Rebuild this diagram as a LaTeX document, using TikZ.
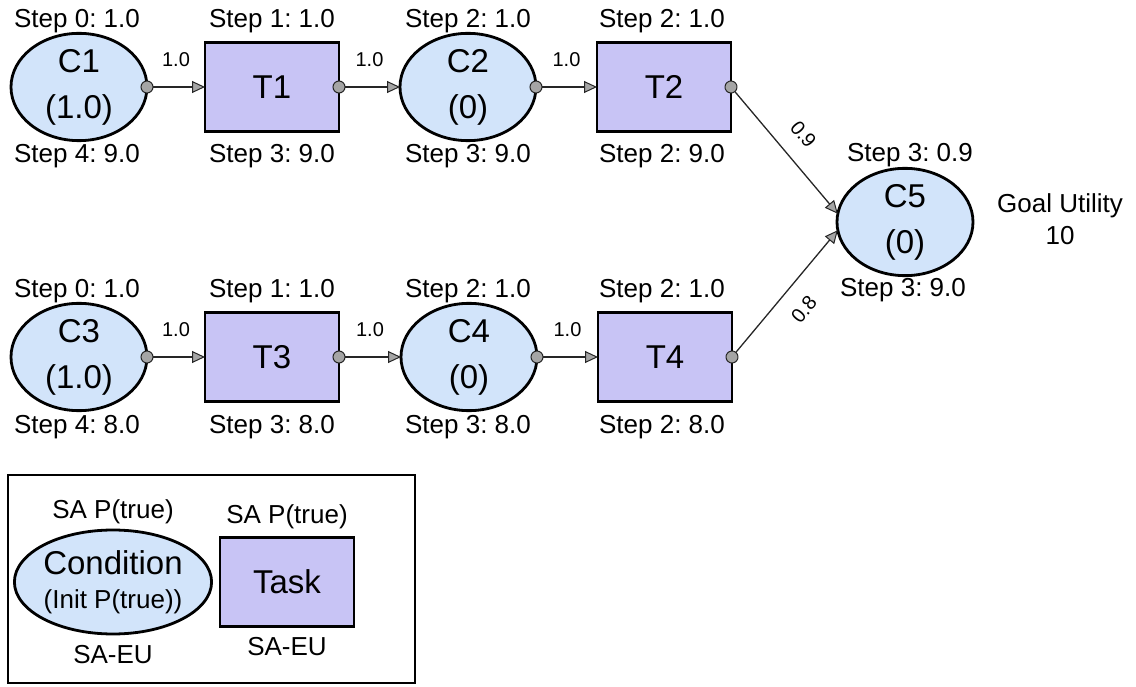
\documentclass[tikz,border=0pt]{standalone}
\usepackage{fontspec}
\setmainfont{Liberation Sans}
\frenchspacing
\usetikzlibrary{shapes.geometric,arrows.meta}
\definecolor{condfill}{RGB}{210,228,250}
\definecolor{taskfill}{RGB}{200,196,245}
\definecolor{tipgray}{RGB}{165,165,165}
\tikzset{
  cond/.style={ellipse, draw=black, line width=2.8pt, fill=condfill, inner sep=0pt, outer sep=0pt,
    minimum width=136pt, minimum height=90pt, align=center, font=\fontsize{33}{46}\selectfont},
  task/.style={rectangle, draw=black, line width=2.8pt, fill=taskfill, inner sep=0pt, outer sep=0pt,
    minimum width=134pt, minimum height=89pt, align=center, font=\fontsize{33}{46}\selectfont},
  lbl/.style={anchor=base, inner sep=0pt, font=\fontsize{26}{30}\selectfont},
  elbl/.style={inner sep=0pt, font=\fontsize{20}{24}\selectfont},
  conn/.style={draw=black!85, line width=1.3pt, shorten <=-6.5pt,
    {Circle[length=13pt, fill=tipgray, line width=1pt]}-{Triangle[length=13pt, width=12pt, fill=tipgray, line width=1pt]}},
}
\begin{document}
\begin{tikzpicture}[x=1pt, y=-1pt]
\useasboundingbox (0,0) rectangle (1136,687);

% upper chain
\node[cond] (c1) at (79,87) {C1\\(1.0)};
\node[task] (t1) at (272,87) {T1};
\node[cond] (c2) at (468,87) {C2\\(0)};
\node[task] (t2) at (664,87) {T2};
% lower chain
\node[cond] (c3) at (79,357) {C3\\(1.0)};
\node[task] (t3) at (272,357) {T3};
\node[cond] (c4) at (469,357) {C4\\(0)};
\node[task] (t4) at (665,357) {T4};
% goal
\node[cond] (c5) at (905,222) {C5\\(0)};

% step annotations
\node[lbl] (c1a) at (77,28) {Step 0: 1.0};
\node[lbl] (c1b) at (77,163) {Step 4: 9.0};
\node[lbl] (t1a) at (272,28) {Step 1: 1.0};
\node[lbl] (t1b) at (272,163) {Step 3: 9.0};
\node[lbl] (c2a) at (468,28) {Step 2: 1.0};
\node[lbl] (c2b) at (468,163) {Step 3: 9.0};
\node[lbl] (t2a) at (662,28) {Step 2: 1.0};
\node[lbl] (t2b) at (662,163) {Step 2: 9.0};

\node[lbl] (c3a) at (77,298) {Step 0: 1.0};
\node[lbl] (c3b) at (77,433) {Step 4: 8.0};
\node[lbl] (t3a) at (272,298) {Step 1: 1.0};
\node[lbl] (t3b) at (272,433) {Step 3: 8.0};
\node[lbl] (c4a) at (468,298) {Step 2: 1.0};
\node[lbl] (c4b) at (468,433) {Step 3: 8.0};
\node[lbl] (t4a) at (662,298) {Step 2: 1.0};
\node[lbl] (t4b) at (662,433) {Step 2: 8.0};

\node[lbl] (c5a) at (910,162) {Step 3: 0.9};
\node[lbl] (c5b) at (903,297) {Step 3: 9.0};
\node[lbl] (gu1) at (1060,213) {Goal Utility};
\node[lbl] (gu2) at (1060,245) {10};

% links
\draw[conn] (c1.east) -- node[elbl, above=20pt] {1.0} (t1.west);
\draw[conn] (t1.east) -- node[elbl, above=20pt] {1.0} (c2.west);
\draw[conn] (c2.east) -- node[elbl, above=20pt] {1.0} (t2.west);
\draw[conn] (c3.east) -- node[elbl, above=20pt] {1.0} (t3.west);
\draw[conn] (t3.east) -- node[elbl, above=20pt] {1.0} (c4.west);
\draw[conn] (c4.east) -- node[elbl, above=20pt] {1.0} (t4.west);
\draw[conn] (t2.east) -- node[elbl, sloped, above=17pt, pos=0.5] {0.9} (c5.173);
\draw[conn] (t4.east) -- node[elbl, sloped, below=17pt, pos=0.5] {0.8} (c5.187);

% legend
\node[draw=black, line width=2.8pt, inner sep=0pt, outer sep=0pt, minimum width=407pt, minimum height=208pt] (legend) at (211.5,579) {};
\node[cond, minimum width=182pt, minimum height=104pt, font=\fontsize{33}{36}\selectfont] (lc) at (113,582)
  {Condition\\[-2pt]{\fontsize{26}{30}\selectfont (Init P(true))}};
\node[task] (lt) at (287,582) {Task};
\node[lbl] (lca) at (113,518) {SA P(true)};
\node[lbl] (lcb) at (113,663) {SA-EU};
\node[lbl] (lta) at (287,523) {SA P(true)};
\node[lbl] (ltb) at (287,655) {SA-EU};
\end{tikzpicture}
\end{document}
